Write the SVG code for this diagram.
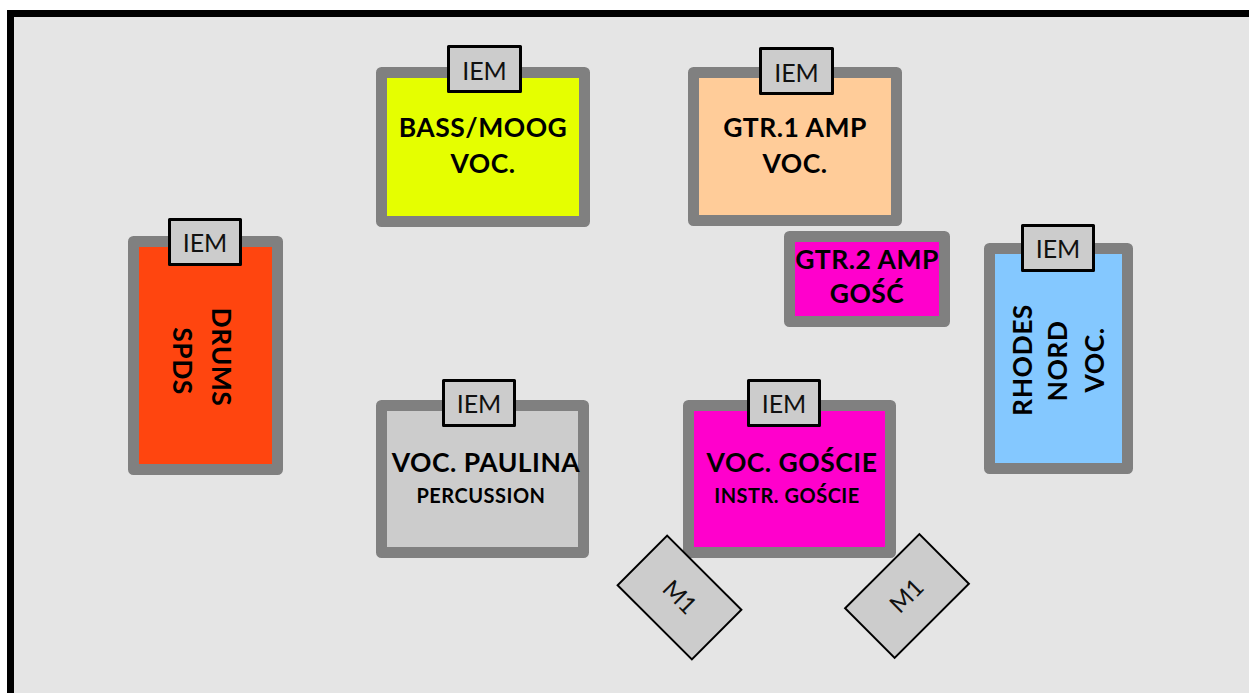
<svg xmlns="http://www.w3.org/2000/svg" width="1249" height="693" viewBox="0 0 1249 693">
<style>
.box{stroke:#808080;stroke-width:11;stroke-linejoin:round}
.iem{fill:#cccccc;stroke:#000;stroke-width:3;stroke-linejoin:round}
.iemt{font-family:Lato,"Liberation Sans",sans-serif;font-weight:400;font-size:25px;fill:#111;text-anchor:middle}
.lbl{font-family:Lato,"Liberation Sans",sans-serif;font-weight:700;font-size:26.5px;letter-spacing:0.5px;fill:#000;text-anchor:middle}
.sm{font-family:Lato,"Liberation Sans",sans-serif;font-weight:700;font-size:20px;letter-spacing:0.5px;fill:#000;text-anchor:middle}
.mon{fill:#cccccc;stroke:#000;stroke-width:2}
.mt{font-family:Lato,"Liberation Sans",sans-serif;font-weight:400;font-size:24px;fill:#111;text-anchor:middle}
</style>
<rect x="0" y="0" width="1249" height="693" fill="#fff"/>
<rect x="7" y="10" width="1242" height="683" fill="#000"/>
<rect x="14" y="17" width="1235" height="676" fill="#e5e5e5"/>
<g id="bass">
<rect class="box" x="381.5" y="72.5" width="203" height="149" fill="#e5ff00"/>
<rect class="iem" x="448.5" y="46.5" width="72" height="45"/>
<text class="iemt" x="484.5" y="80">IEM</text>
<text class="lbl" x="483" y="137">BASS/MOOG</text>
<text class="lbl" x="483" y="173">VOC.</text>
</g>
<g id="gtr1">
<rect class="box" x="693.5" y="72.5" width="203" height="148" fill="#ffcc99"/>
<rect class="iem" x="760.5" y="48.5" width="72" height="45"/>
<text class="iemt" x="796.5" y="82">IEM</text>
<text class="lbl" x="795" y="137">GTR.1 AMP</text>
<text class="lbl" x="795" y="173">VOC.</text>
</g>
<g id="gtr2">
<rect class="box" x="789.5" y="236.5" width="155" height="85" fill="#ff00cc"/>
<text class="lbl" x="867" y="269">GTR.2 AMP</text>
<text class="lbl" x="867" y="303">GOŚĆ</text>
</g>
<g id="drums">
<rect class="box" x="133.5" y="241.5" width="144" height="228" fill="#ff450f"/>
<rect class="iem" x="169.5" y="219.5" width="71" height="45"/>
<text class="iemt" x="205" y="252">IEM</text>
<text class="lbl" transform="translate(212,357) rotate(90)" x="0" y="0">DRUMS</text>
<text class="lbl" transform="translate(173,361) rotate(90)" x="0" y="0">SPDS</text>
</g>
<g id="rhodes">
<rect class="box" x="989.5" y="248.5" width="138" height="220" fill="#84c8ff"/>
<rect class="iem" x="1022.5" y="225.5" width="71" height="45"/>
<text class="iemt" x="1058" y="258">IEM</text>
<text class="lbl" transform="translate(1032,360) rotate(-90)" x="0" y="0">RHODES</text>
<text class="lbl" transform="translate(1067,361) rotate(-90)" x="0" y="0">NORD</text>
<text class="lbl" transform="translate(1104,360) rotate(-90)" x="0" y="0">VOC.</text>
</g>
<g id="paulina">
<rect class="box" x="381.5" y="405.5" width="202" height="147" fill="#cccccc"/>
<rect class="iem" x="443.5" y="380.5" width="71" height="45"/>
<text class="iemt" x="479" y="413">IEM</text>
<text class="lbl" x="486" y="472">VOC. PAULINA</text>
<text class="sm" x="481" y="503">PERCUSSION</text>
</g>
<g id="goscie">
<rect class="box" x="688.5" y="405.5" width="202" height="147" fill="#ff00cc"/>
<rect class="iem" x="748.5" y="380.5" width="71" height="45"/>
<text class="iemt" x="784" y="413">IEM</text>
<text class="lbl" x="792" y="472">VOC. GOŚCIE</text>
<text class="sm" x="787" y="503">INSTR. GOŚCIE</text>
</g>
<g id="m1-left" transform="translate(679.5,597.5) rotate(45)">
<rect class="mon" x="-52.5" y="-35" width="105" height="70"/>
<text class="mt" x="0" y="8">M1</text>
</g>
<g id="m1-right" transform="translate(907,596) rotate(-45)">
<rect class="mon" x="-52.5" y="-35" width="105" height="70"/>
<text class="mt" x="0" y="8">M1</text>
</g>
<g id="connectors"></g>
</svg>
